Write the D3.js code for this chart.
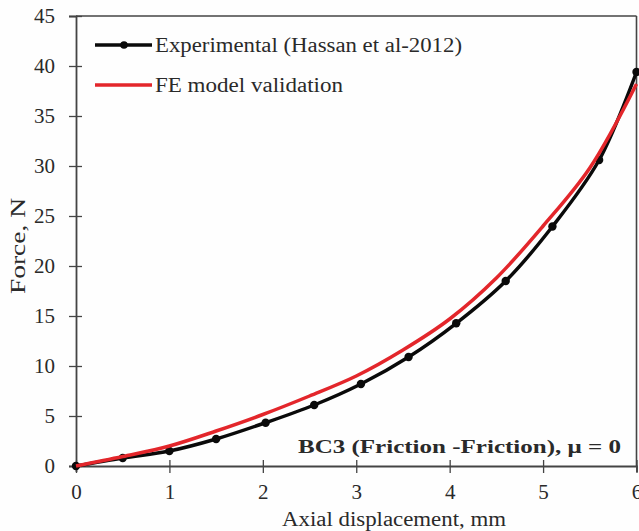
<!DOCTYPE html>
<html>
<head>
<meta charset="utf-8">
<script src="https://cdn.jsdelivr.net/npm/d3@7"></script>
<style>
  html, body { margin: 0; padding: 0; background: #fefefe; }
  svg { display: block; }
  text { font-family: "Liberation Serif", "Times New Roman", serif; fill: #2a2a2a; }
</style>
</head>
<body>
<svg id="chart" width="639" height="531"></svg>
<script>
// ---- data ----
const expX = [0, 0.5, 1.0, 1.5, 2.03, 2.55, 3.05, 3.56, 4.07, 4.6, 5.1, 5.6, 6.0];
const expY = [0, 0.8, 1.5, 2.7, 4.33, 6.1, 8.2, 10.9, 14.27, 18.5, 23.95, 30.6, 39.4];
const feX = [0, 0.5, 1.0, 1.5, 2.0, 2.5, 3.0, 3.5, 4.0, 4.5, 5.0, 5.5, 6.0];
const feY = [0, 0.95, 2.0, 3.5, 5.15, 7.0, 9.0, 11.6, 14.7, 18.8, 24.0, 29.8, 38.2];
const xTicks = [0, 1, 2, 3, 4, 5, 6];
const yTicks = [0, 5, 10, 15, 20, 25, 30, 35, 40, 45];
const seriesNames = ["Experimental (Hassan et al-2012)", "FE model validation"];
const xLabel = "Axial displacement, mm";
const yLabel = "Force, N";
const annotation = "BC3 (Friction -Friction),  \u03bc = 0";

// ---- layout ----
const svg = d3.select("#chart");
const x = d3.scaleLinear().domain([0, 6]).range([76, 636.5]);
const y = d3.scaleLinear().domain([0, 45]).range([466, 16]);
const axisColor = "#444";

// frame (top and right)
svg.append("line").attr("x1", x(0)).attr("x2", x(6)).attr("y1", y(45)).attr("y2", y(45))
  .attr("stroke", axisColor).attr("stroke-width", 1.6);
svg.append("line").attr("x1", x(6)).attr("x2", x(6)).attr("y1", y(45)).attr("y2", y(0))
  .attr("stroke", axisColor).attr("stroke-width", 1.6);

// x axis
const xAxis = svg.append("g").attr("transform", `translate(0,${y(0)})`)
  .call(d3.axisBottom(x).tickValues(xTicks).tickFormat(d3.format("d")).tickSize(6).tickPadding(12));
xAxis.select(".domain").attr("stroke", axisColor).attr("stroke-width", 1.8);
xAxis.selectAll(".tick line").attr("y1", -6).attr("y2", 7).attr("stroke", axisColor).attr("stroke-width", 1.3);
xAxis.selectAll(".tick text").style("font-size", "21px").attr("fill", "#2a2a2a")
  .style("font-family", "Liberation Serif, serif");

// y axis
const yAxis = svg.append("g").attr("transform", `translate(${x(0)},0)`)
  .call(d3.axisLeft(y).tickValues(yTicks).tickFormat(d3.format("d")).tickSize(7).tickPadding(14));
yAxis.select(".domain").attr("stroke", axisColor).attr("stroke-width", 1.8);
yAxis.selectAll(".tick line").attr("x1", -7).attr("x2", 6).attr("stroke", axisColor).attr("stroke-width", 1.3);
yAxis.selectAll(".tick text").style("font-size", "21px").attr("fill", "#2a2a2a")
  .style("font-family", "Liberation Serif, serif");

// axis labels
svg.append("text").attr("x", 394).attr("y", 526).attr("text-anchor", "middle")
  .style("font-size", "20px").attr("textLength", 224).attr("lengthAdjust", "spacingAndGlyphs").text(xLabel);
svg.append("text").attr("transform", "translate(25,246) rotate(-90)").attr("text-anchor", "middle")
  .style("font-size", "20px").attr("textLength", 96).attr("lengthAdjust", "spacingAndGlyphs").text(yLabel);

// series
const expData = expX.map((v, i) => [v, expY[i]]);
const feData = feX.map((v, i) => [v, feY[i]]);
const line = d3.line().x(d => x(d[0])).y(d => y(d[1])).curve(d3.curveCatmullRom);

svg.append("path").datum(expData).attr("d", line)
  .attr("fill", "none").attr("stroke", "#0a0a0a").attr("stroke-width", 3.5);
svg.append("g").selectAll("circle").data(expData).join("circle")
  .attr("cx", d => x(d[0])).attr("cy", d => y(d[1])).attr("r", 4.2).attr("fill", "#0a0a0a");

svg.append("path").datum(feData).attr("d", line)
  .attr("fill", "none").attr("stroke", "#e3262b").attr("stroke-width", 3.5);

// legend
const lg = svg.append("g");
lg.append("line").attr("x1", 95).attr("x2", 152).attr("y1", 45).attr("y2", 45)
  .attr("stroke", "#0a0a0a").attr("stroke-width", 3.5);
lg.append("circle").attr("cx", 124).attr("cy", 45).attr("r", 3.8).attr("fill", "#0a0a0a");
lg.append("text").attr("x", 155).attr("y", 52).style("font-size", "20px")
  .attr("textLength", 307).attr("lengthAdjust", "spacingAndGlyphs").text(seriesNames[0]);
lg.append("line").attr("x1", 95).attr("x2", 152).attr("y1", 85).attr("y2", 85)
  .attr("stroke", "#e3262b").attr("stroke-width", 3.5);
lg.append("text").attr("x", 155).attr("y", 92).style("font-size", "20px")
  .attr("textLength", 188).attr("lengthAdjust", "spacingAndGlyphs").text(seriesNames[1]);

// annotation
svg.append("text").attr("x", 298).attr("y", 453)
  .style("font-size", "19px").style("font-weight", "bold")
  .attr("textLength", 323).attr("lengthAdjust", "spacingAndGlyphs").text(annotation);
</script>
</body>
</html>
